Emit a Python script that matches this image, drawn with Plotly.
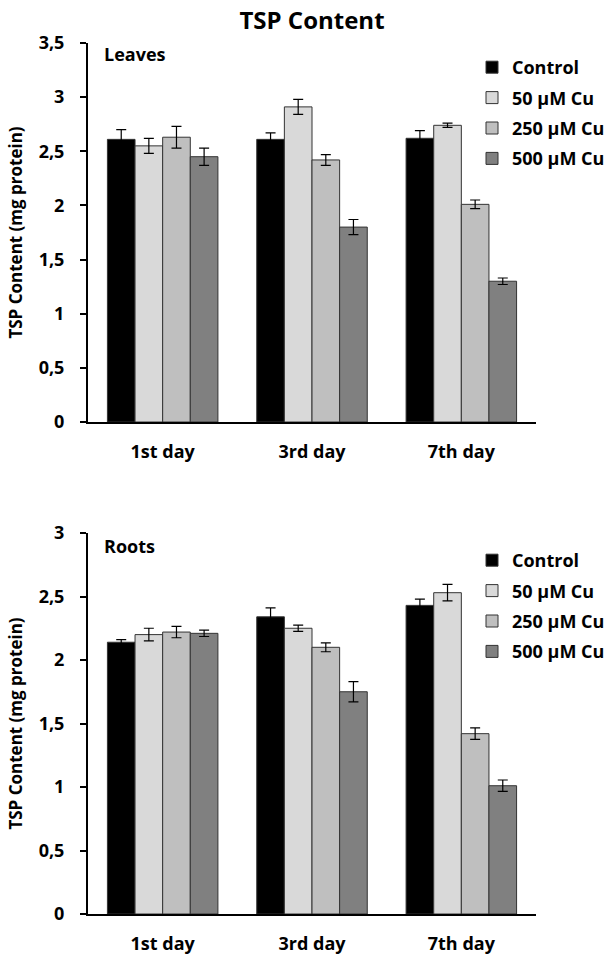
import plotly.graph_objects as go

days = ["1st day", "3rd day", "7th day"]
series = ["Control", "50 µM Cu", "250 µM Cu", "500 µM Cu"]
colors = ["#000000", "#d9d9d9", "#bfbfbf", "#808080"]

leaves_control = [2.61, 2.61, 2.62]
leaves_50 = [2.55, 2.91, 2.74]
leaves_250 = [2.63, 2.42, 2.01]
leaves_500 = [2.45, 1.80, 1.30]
leaves_control_err = [0.09, 0.06, 0.07]
leaves_50_err = [0.07, 0.07, 0.02]
leaves_250_err = [0.10, 0.05, 0.04]
leaves_500_err = [0.08, 0.07, 0.03]

roots_control = [2.14, 2.34, 2.43]
roots_50 = [2.20, 2.25, 2.53]
roots_250 = [2.22, 2.10, 1.42]
roots_500 = [2.21, 1.75, 1.01]
roots_control_err = [0.02, 0.07, 0.05]
roots_50_err = [0.05, 0.025, 0.065]
roots_250_err = [0.045, 0.035, 0.045]
roots_500_err = [0.025, 0.08, 0.045]

leaves_vals = [leaves_control, leaves_50, leaves_250, leaves_500]
leaves_errs = [leaves_control_err, leaves_50_err, leaves_250_err, leaves_500_err]
roots_vals = [roots_control, roots_50, roots_250, roots_500]
roots_errs = [roots_control_err, roots_50_err, roots_250_err, roots_500_err]

leaves_ticks = [0, 0.5, 1, 1.5, 2, 2.5, 3, 3.5]
leaves_ticktext = ["0", "0,5", "1", "1,5", "2", "2,5", "3", "3,5"]
roots_ticks = [0, 0.5, 1, 1.5, 2, 2.5, 3]
roots_ticktext = ["0", "0,5", "1", "1,5", "2", "2,5", "3"]

FONT = "Open Sans"
W, H = 616, 956

fig = go.Figure()

for i, name in enumerate(series):
    fig.add_trace(go.Bar(
        x=days, y=leaves_vals[i], name=name,
        marker=dict(color=colors[i], line=dict(color="#333333", width=1)),
        error_y=dict(type="data", array=leaves_errs[i], color="#000000", thickness=1.2, width=5),
        xaxis="x", yaxis="y", legend="legend", legendgroup="l%d" % i,
    ))
for i, name in enumerate(series):
    fig.add_trace(go.Bar(
        x=days, y=roots_vals[i], name=name,
        marker=dict(color=colors[i], line=dict(color="#333333", width=1)),
        error_y=dict(type="data", array=roots_errs[i], color="#000000", thickness=1.2, width=5),
        xaxis="x2", yaxis="y2", legend="legend2", legendgroup="r%d" % i,
    ))

def px_x(p):
    return p / W

def px_y(p):
    return 1 - p / H

xdom = [px_x(88), px_x(536)]
axis_font = dict(family=FONT, size=18, color="#000000", weight="bold")

common_x = dict(
    domain=xdom, showline=True, linecolor="#000000", linewidth=2,
    ticks="", showgrid=False, zeroline=False, tickfont=axis_font,
    ticklabelstandoff=12, automargin=False,
)
common_y = dict(
    showline=True, linecolor="#000000", linewidth=2,
    ticks="outside", ticklen=6, tickwidth=2, tickcolor="#000000",
    showgrid=False, zeroline=False, tickfont=axis_font,
    ticklabelstandoff=12, automargin=False,
    title=dict(text="TSP Content (mg protein)", font=dict(family=FONT, size=17, color="#000000", weight="bold"), standoff=12),
)

legend_common = dict(
    font=dict(family=FONT, size=18, color="#000000", weight="bold"),
    bgcolor="rgba(0,0,0,0)", borderwidth=0,
    tracegroupgap=4, xanchor="left", yanchor="top", x=px_x(472),
    itemclick=False, itemdoubleclick=False,
)

fig.update_layout(
    width=W, height=H,
    margin=dict(l=0, r=0, t=0, b=0),
    paper_bgcolor="#ffffff", plot_bgcolor="#ffffff",
    barmode="group", bargap=0.26, bargroupgap=0,
    title=dict(text="TSP Content", x=px_x(312), xanchor="center", y=px_y(21), yanchor="middle",
               font=dict(family=FONT, size=24, color="#000000", weight="bold")),
    xaxis=dict(**common_x, anchor="y"),
    yaxis=dict(**common_y, domain=[px_y(422), px_y(43)], range=[0, 3.5],
               tickvals=leaves_ticks, ticktext=leaves_ticktext, anchor="x"),
    xaxis2=dict(**common_x, anchor="y2"),
    yaxis2=dict(**common_y, domain=[px_y(914), px_y(533)], range=[0, 3],
                tickvals=roots_ticks, ticktext=roots_ticktext, anchor="x2"),
    legend=dict(**legend_common, y=px_y(49)),
    legend2=dict(**legend_common, y=px_y(542)),
    annotations=[
        dict(text="Leaves", xref="paper", yref="paper", x=px_x(102), y=px_y(54),
             xanchor="left", yanchor="middle", showarrow=False,
             font=dict(family=FONT, size=18, color="#000000", weight="bold")),
        dict(text="Roots", xref="paper", yref="paper", x=px_x(102), y=px_y(546),
             xanchor="left", yanchor="middle", showarrow=False,
             font=dict(family=FONT, size=18, color="#000000", weight="bold")),
    ],
)

fig.write_html(
    "out.html",
    config={"displayModeBar": False},
    post_script="document.body.style.margin='0';document.body.style.overflow='hidden';",
)
